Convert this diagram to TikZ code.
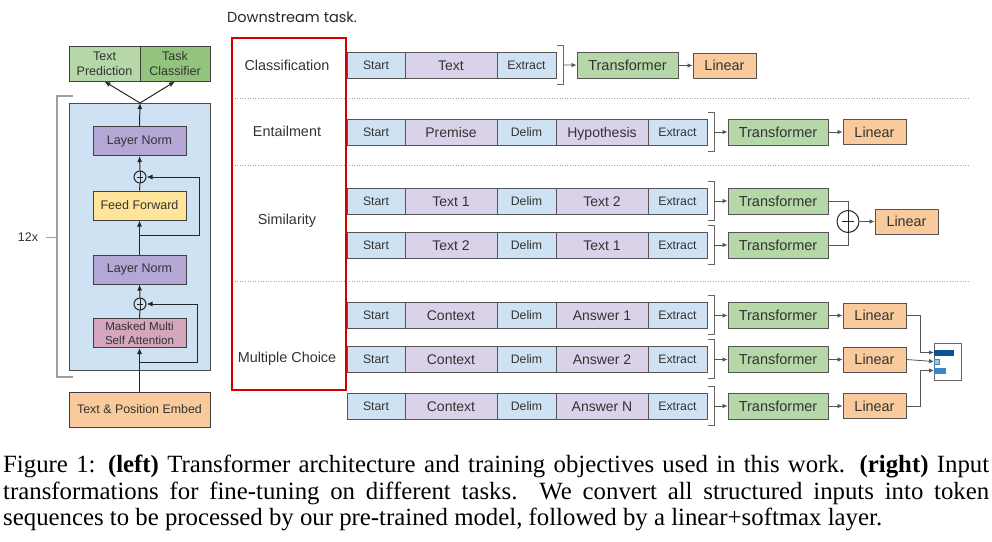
\documentclass[tikz,border=0pt]{standalone}
\usepackage{fontspec}
\setmainfont{Liberation Serif}
\setsansfont{Liberation Sans}
\newfontfamily\dsfont{Poppins}
\usetikzlibrary{arrows.meta,calc}
\definecolor{tblue}{HTML}{CFE2F3}
\definecolor{tpurple}{HTML}{D9D2E9}
\definecolor{tgreen}{HTML}{B6D7A8}
\definecolor{tgreenD}{HTML}{93C47D}
\definecolor{torange}{HTML}{F9CB9C}
\definecolor{tyellow}{HTML}{FFE599}
\definecolor{tlav}{HTML}{B4A7D6}
\definecolor{tpink}{HTML}{D5A6BD}
\definecolor{bordc}{HTML}{555555}
\definecolor{txtc}{HTML}{333333}
\definecolor{redbox}{HTML}{D40000}
\definecolor{bar1}{HTML}{0B5394}
\definecolor{bar2}{HTML}{9FC5E8}
\definecolor{bar3}{HTML}{3D85C6}
\newcommand\fs[1]{\fontsize{#1}{#1}\selectfont}
\begin{document}
\begin{tikzpicture}[x=1pt,y=-1pt,
  box/.style={draw=bordc, line width=0.9pt, inner sep=0pt, text=txtc, text depth=0pt},
  tb/.style={box, fill=tblue, minimum height=26pt, font=\sffamily\fs{12.3}, text height=8.8pt},
  tp/.style={box, fill=tpurple, minimum height=26pt, font=\sffamily\fs{14}, text height=10pt},
  trf/.style={box, fill=tgreen, minimum width=100pt, minimum height=26pt, font=\sffamily\fs{14.5}, text height=10.4pt},
  lin/.style={box, fill=torange, minimum width=63pt, minimum height=25pt, font=\sffamily\fs{14.4}, text height=10.3pt},
  lbox/.style={draw=black!75, line width=1pt, inner sep=0pt, text=txtc, minimum width=93pt, minimum height=29pt, font=\sffamily\fs{12.5}},
  arr/.style={-{Latex[length=5pt,width=4.5pt]}, line width=0.8pt, draw=bordc},
  larr/.style={-{Latex[length=6pt,width=5pt]}, line width=1pt, draw=black!85},
  lline/.style={line width=1pt, draw=black!85},
  brk/.style={line width=1pt, draw=gray!80!black},
  sep/.style={dotted, line width=0.6pt, draw=gray!70},
  lab/.style={text=txtc, font=\sffamily\fs{14.4}, inner sep=0pt},
  pluss/.style={circle, draw=black!85, line width=1pt, inner sep=0pt, minimum size=#1,
    path picture={\draw[line width=1pt] ($(path picture bounding box.west)+(0.22*#1,0)$) -- ($(path picture bounding box.east)+(-0.22*#1,0)$);
                  \draw[line width=1pt] ($(path picture bounding box.north)+(0,0.22*#1)$) -- ($(path picture bounding box.south)+(0,-0.22*#1)$);}}
]
\useasboundingbox (0,0) rectangle (992,541);

% ---------------- LEFT PANEL ----------------
\node[draw=black!70, line width=1pt, fill=tblue, minimum width=141pt, minimum height=267pt, inner sep=0pt] (blk) at (139.5,236.5) {};
\node[draw=black!75, line width=1pt, fill=tgreen, minimum width=71pt, minimum height=35pt, inner sep=0pt, align=center, text=txtc, font=\sffamily\fontsize{12.5}{15}\selectfont] (tpred) at (104.5,63.5) {Text\\Prediction};
\node[draw=black!75, line width=1pt, fill=tgreenD, minimum width=70pt, minimum height=35pt, inner sep=0pt, align=center, text=txtc, font=\sffamily\fontsize{12.5}{15}\selectfont] (tcls) at (175,63.5) {Task\\Classifier};
\node[lbox, fill=tlav] (ln1) at (139.5,141) {Layer Norm};
\node[pluss=12pt] (p1) at (140,177) {};
\node[lbox, fill=tyellow] (ff) at (139.5,205.5) {Feed Forward};
\node[lbox, fill=tlav] (ln2) at (139.5,269.5) {Layer Norm};
\node[pluss=12pt] (p2) at (140,304) {};
\node[lbox, fill=tpink, align=center, font=\sffamily\fontsize{11.6}{14}\selectfont] (att) at (139.5,333) {Masked Multi\\Self Attention};
\node[draw=black!75, line width=1pt, fill=torange, minimum width=141pt, minimum height=35pt, inner sep=0pt, text=txtc, font=\sffamily\fs{12.4}] (emb) at (139.5,409.5) {Text \& Position Embed};

\coordinate (r1s) at (140,362);
\coordinate (r2s) at (140,235);
\coordinate (topc) at (140,103);
\draw[larr] (emb.north) -- (att.south);
\draw[lline] (att.north) -- (p2.south);
\draw[larr] (p2.north) -- (ln2.south);
\draw[larr] (ln2.north) -- (ff.south);
\draw[lline] (ff.north) -- (p1.south);
\draw[larr] (p1.north) -- (ln1.south);
\draw[larr] (ln1.north) -- (topc);
\draw[larr] (r1s) -- (197,362) -- (197,304) -- (p2.east);
\draw[larr] (r2s) -- (199,235) -- (199,177) -- (p1.east);
\draw[larr] (topc) -- (tpred.south);
\draw[larr] (topc) -- (tcls.south);

\draw[line width=1.1pt, draw=gray!75] (73,96) -- (57,96) -- (57,377) -- (73,377);
\node[text=txtc, font=\sffamily\fs{12.5}, inner sep=0pt] (twelve) at (28,237) {12x};
\draw[line width=1pt, draw=gray!75] (46,237) -- (57,237);

% ---------------- RIGHT PANEL ----------------
\node[anchor=base west, inner sep=0pt, text=black!85, font=\dsfont\fs{14.5}] (ds) at (227,22) {Downstream task.};

\draw[sep] (232,98.5) -- (970,98.5);
\draw[sep] (232,165) -- (970,165);
\draw[sep] (232,281) -- (970,281);

\draw[redbox, line width=1.8pt] (232,38) rectangle (346,390);
\node[lab] (lc) at (287,65) {Classification};
\node[lab] (le) at (287,131) {Entailment};
\node[lab] (lsim) at (287,221) {Similarity};
\node[lab] (lm) at (287,359) {Multiple Choice};

% Classification
\node[tb, minimum width=58pt] (c1) at (376,65) {Start};
\node[tp, minimum width=92pt] (c2) at (451,65) {Text};
\node[tb, minimum width=59pt] (c3) at (526.5,65) {Extract};
\draw[brk] (c3.east) ++(1,-20) -- ++(6,0) -- ++(0,39) -- ++(-6,0);
\coordinate (cb) at ($(c3.east)+(7,0)$);
\node[trf, minimum width=101pt] (ct) at (627.5,65.5) {Transformer};
\node[lin] (cl) at (724.5,65.5) {Linear};
\draw[arr] (cb) -- (ct);
\draw[arr] (ct) -- (cl);

% Entailment
\node[tb, minimum width=58pt] (e1) at (376,132) {Start};
\node[tp, minimum width=92pt] (e2) at (451,132) {Premise};
\node[tb, minimum width=59pt] (e3) at (526.5,132) {Delim};
\node[tp, minimum width=92pt] (e4) at (602,132) {Hypothesis};
\node[tb, minimum width=59pt] (e5) at (677.5,132) {Extract};
\draw[brk] (e5.east) ++(1,-20) -- ++(6,0) -- ++(0,39) -- ++(-6,0);
\coordinate (eb) at ($(e5.east)+(7,0)$);
\node[trf] (et) at (778,132) {Transformer};
\node[lin] (el) at (874.5,132) {Linear};
\draw[arr] (eb) -- (et);
\draw[arr] (et) -- (el);

% Similarity
\node[tb, minimum width=58pt] (s11) at (376,201) {Start};
\node[tp, minimum width=92pt] (s12) at (451,201) {Text 1};
\node[tb, minimum width=59pt] (s13) at (526.5,201) {Delim};
\node[tp, minimum width=92pt] (s14) at (602,201) {Text 2};
\node[tb, minimum width=59pt] (s15) at (677.5,201) {Extract};
\draw[brk] (s15.east) ++(1,-20) -- ++(6,0) -- ++(0,39) -- ++(-6,0);
\coordinate (s1b) at ($(s15.east)+(7,0)$);
\node[trf] (s1t) at (778,201) {Transformer};
\draw[arr] (s1b) -- (s1t);

\node[tb, minimum width=58pt] (s21) at (376,245) {Start};
\node[tp, minimum width=92pt] (s22) at (451,245) {Text 2};
\node[tb, minimum width=59pt] (s23) at (526.5,245) {Delim};
\node[tp, minimum width=92pt] (s24) at (602,245) {Text 1};
\node[tb, minimum width=59pt] (s25) at (677.5,245) {Extract};
\draw[brk] (s25.east) ++(1,-20) -- ++(6,0) -- ++(0,39) -- ++(-6,0);
\coordinate (s2b) at ($(s25.east)+(7,0)$);
\node[trf] (s2t) at (778,245) {Transformer};
\draw[arr] (s2b) -- (s2t);

\node[pluss=22pt, fill=white] (sp) at (848,221.5) {};
\node[lin] (sl) at (906.5,221.5) {Linear};
\draw[line width=0.8pt, draw=bordc] (s1t.east) -| (sp.north);
\draw[line width=0.8pt, draw=bordc] (s2t.east) -| (sp.south);
\draw[arr] (sp.east) -- (sl);

% Multiple choice
\foreach \r/\yy/\ans in {1/315.5/Answer 1, 2/359.5/Answer 2, 3/406/Answer N}{
  \node[tb, minimum width=58pt] (m\r a) at (376,\yy) {Start};
  \node[tp, minimum width=92pt] (m\r b) at (451,\yy) {Context};
  \node[tb, minimum width=59pt] (m\r c) at (526.5,\yy) {Delim};
  \node[tp, minimum width=92pt] (m\r d) at (602,\yy) {\ans};
  \node[tb, minimum width=59pt] (m\r e) at (677.5,\yy) {Extract};
  \draw[brk] (m\r e.east) ++(1,-20) -- ++(6,0) -- ++(0,39) -- ++(-6,0);
  \coordinate (m\r bk) at ($(m\r e.east)+(7,0)$);
  \node[trf] (m\r t) at (778,\yy) {Transformer};
  \node[lin] (m\r l) at (874.5,\yy) {Linear};
  \draw[arr] (m\r bk) -- (m\r t);
  \draw[arr] (m\r t) -- (m\r l);
}

\node[draw=gray!80!black, line width=0.9pt, fill=white, minimum width=27pt, minimum height=37pt, inner sep=0pt] (sm) at (947.5,361.5) {};
\fill[bar1] (934,350) rectangle (954,355.5);
\draw[bar3, fill=bar2, line width=0.6pt] (934.5,359) rectangle (939,364);
\fill[bar3] (934,368) rectangle (946,373.5);
\coordinate (in1) at (934,352.5);
\coordinate (in2) at (934,361.5);
\coordinate (in3) at (934,370.5);
\draw[arr] (m1l.east) -- (920,315.5) -- (920,352.5) -- (in1);
\draw[arr] (m2l.east) -- (in2);
\draw[arr] (m3l.east) -- (920,406) -- (920,370.5) -- (in3);

% ---------------- CAPTION ----------------
\node[anchor=north west, inner sep=0pt, text width=986pt, align=justify, text=black,
      font=\rmfamily\fontsize{24.8}{26.5}\selectfont] (cap) at (3,455)
 {Figure 1: \textbf{(left)} Transformer architecture and training objectives used in this work. \textbf{(right)} Input\linebreak
  transformations for fine-tuning on different tasks. We convert all structured inputs into token\linebreak
  sequences to be processed by our pre-trained model, followed by a linear+softmax layer.};
\end{tikzpicture}
\end{document}
